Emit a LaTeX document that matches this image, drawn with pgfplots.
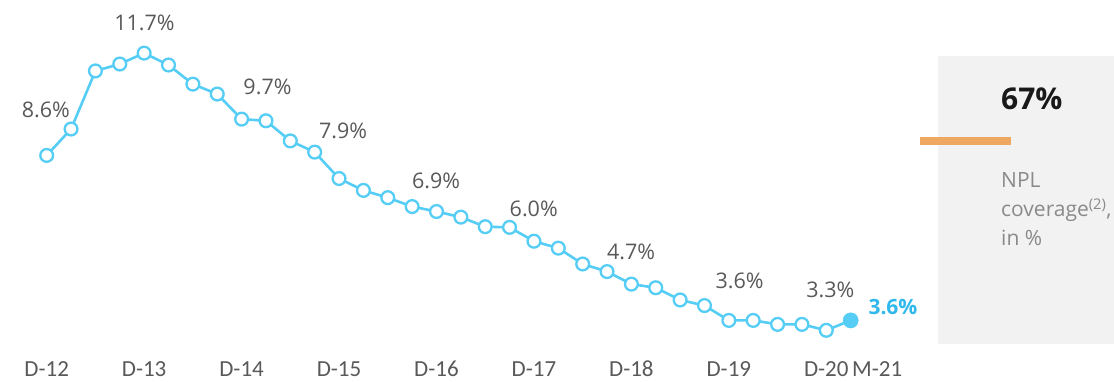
\documentclass[border=0pt]{standalone}
\usepackage{pgfplots}
\pgfplotsset{compat=1.18}
\usepackage{fontspec}
\setmainfont{Open Sans}
\newfontfamily\calib{Carlito}
\definecolor{linec}{HTML}{55CDF5}
\definecolor{bluet}{HTML}{2EB8EC}
\definecolor{labc}{HTML}{595959}
\definecolor{boxc}{HTML}{F2F2F2}
\definecolor{orc}{HTML}{EFA862}
\definecolor{nplc}{HTML}{8A8A8A}
\begin{document}
\begin{tikzpicture}
\path[use as bounding box] (0,0) rectangle (1114pt,381pt);
\fill[boxc] (938pt,37pt) rectangle (1114pt,325pt);
\fill[orc] (920pt,236.3pt) rectangle (1011pt,243.7pt);
\node[anchor=base west, inner sep=0pt, font=\fontsize{30}{36}\selectfont\bfseries, text=black!90] at (1001pt,271pt) {67\%};
\begin{scope}[every node/.style={anchor=base west, inner sep=0pt, font=\fontsize{21}{26}\selectfont, text=nplc}]
\node at (1001pt,193.3pt) {NPL};
\node at (1001pt,164.3pt) {coverage\textsuperscript{(2)},};
\node at (1001pt,136pt) {in \%};
\end{scope}
\begin{axis}[at={(0pt,36pt)}, anchor=south west, scale only axis,
  width=1114pt, height=345pt,
  xmin=-1.917, xmax=43.81, ymin=2.855, ymax=13.31, clip=false,
  axis line style={draw=none}, major tick length=0pt, ytick=\empty,
  xtick={0,4,...,32},
  xticklabels={D-12,D-13,D-14,D-15,D-16,D-17,D-18,D-19,D-20},
  xticklabel style={font=\calib\fontsize{23}{27}\selectfont, text=labc, anchor=base, inner sep=0pt, yshift=-31.5pt},
  extra x ticks={33}, extra x tick labels={M-21},
  extra x tick style={xticklabel style={anchor=base west, xshift=1.3pt}}]
\addplot[linec, line width=2.6pt, mark=*, mark indices={1,...,33},
  mark options={fill=white, draw=linec, line width=2.3pt}, mark size=6.4pt]
  coordinates {
  (0,8.6) (1,9.40) (2,11.16) (3,11.37) (4,11.7) (5,11.34) (6,10.76) (7,10.46)
  (8,9.7) (9,9.65) (10,9.04) (11,8.70) (12,7.9) (13,7.54) (14,7.32) (15,7.05)
  (16,6.9) (17,6.73) (18,6.44) (19,6.42) (20,6.0) (21,5.79) (22,5.31) (23,5.08)
  (24,4.7) (25,4.59) (26,4.22) (27,4.05) (28,3.6) (29,3.6) (30,3.48) (31,3.48)
  (32,3.3) (33,3.6)};
\addplot[linec, only marks, mark=*, mark size=7.6pt, mark options={solid, fill=linec, draw=linec, line width=0.5pt}]
  coordinates {(33,3.6)};
\end{axis}
\begin{scope}[every node/.style={anchor=base, inner sep=0pt, font=\fontsize{21.5}{26}\selectfont, text=labc}]
\node at (45.8pt,263pt) {8.6\%};
\node at (144.5pt,350.3pt) {11.7\%};
\node at (267.5pt,286pt) {9.7\%};
\node at (343pt,242.7pt) {7.9\%};
\node at (436pt,192.7pt) {6.9\%};
\node at (533.7pt,164.3pt) {6.0\%};
\node at (631pt,121.7pt) {4.7\%};
\node at (739.5pt,92.7pt) {3.6\%};
\node at (830.3pt,83.7pt) {3.3\%};
\end{scope}
\node[anchor=base west, inner sep=0pt, font=\fontsize{21}{26}\selectfont\bfseries, text=bluet] at (868.3pt,66.7pt) {3.6\%};
\end{tikzpicture}
\end{document}
